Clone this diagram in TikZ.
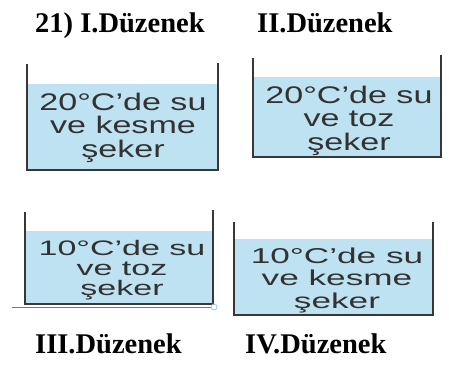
\documentclass[tikz,border=0pt]{standalone}
\usepackage{fontspec}
\setmainfont{Liberation Serif}
\newfontfamily\labelfont{Liberation Sans}
\usetikzlibrary{positioning}
\definecolor{waterblue}{RGB}{190, 226, 242}
\definecolor{wallgray}{RGB}{55, 55, 55}
\definecolor{textgray}{RGB}{50, 50, 50}
\definecolor{lineblue}{RGB}{79, 129, 189}

\begin{document}
\begin{tikzpicture}[
    x=1pt, y=-1pt,
    wall/.style={draw=wallgray, line width=2pt, line join=miter},
    water/.style={fill=waterblue},
    title/.style={anchor=base west, inner sep=0pt, font=\fontsize{28.5}{30}\selectfont\bfseries},
    sol/.style={anchor=base, inner sep=0pt, align=center, text=textgray},
    bigtxt/.style={sol, xscale=1.42, font=\labelfont\fontsize{24}{23.5}\selectfont},
    smalltxt/.style={sol, xscale=1.62, font=\labelfont\fontsize{21}{20}\selectfont}
  ]
  \useasboundingbox (0,0) rectangle (449,367);

  % titles
  \node[title] (d1) at (35,32) {21) I.Düzenek};
  \node[title] (d2) at (257,32) {II.Düzenek};
  \node[title] (d3) at (35,353) {III.Düzenek};
  \node[title] (d4) at (245,353) {IV.Düzenek};

  % I. duzenek
  \fill[water] (27,84) rectangle (218,170);
  \draw[wall] (27,64) -- (27,170) -- (218,170) -- (218,63);
  \node[bigtxt] (s1) at (123,157) {20°C’de su\\ve kesme\\şeker};

  % II. duzenek
  \fill[water] (253,77) rectangle (441,157);
  \draw[wall] (253,58) -- (253,157) -- (441,157) -- (441,55);
  \node[bigtxt] (s2) at (349,150) {20°C’de su\\ve toz\\şeker};

  % III. duzenek
  \fill[water] (25,231) rectangle (213,304);
  \draw[wall] (25,212) -- (25,304) -- (213,304) -- (213,210);
  \node[smalltxt] (s3) at (122,295) {10°C’de su\\ve toz\\şeker};
  \coordinate (l3a) at (12,307);
  \coordinate (l3b) at (211,307);
  \draw[lineblue, line width=1pt] (l3a) -- (l3b);
  \draw[waterblue!70!lineblue, line width=0.8pt] (l3b) ++(3,0) circle (3);

  % IV. duzenek
  \fill[water] (234,239) rectangle (433,315);
  \draw[wall] (234,222) -- (234,315) -- (433,315) -- (433,222);
  \node[smalltxt, xscale=1.01, font=\labelfont\fontsize{21.5}{22.5}\selectfont] (s4) at (337,308) {10°C’de su\\ve kesme\\şeker};
\end{tikzpicture}
\end{document}
